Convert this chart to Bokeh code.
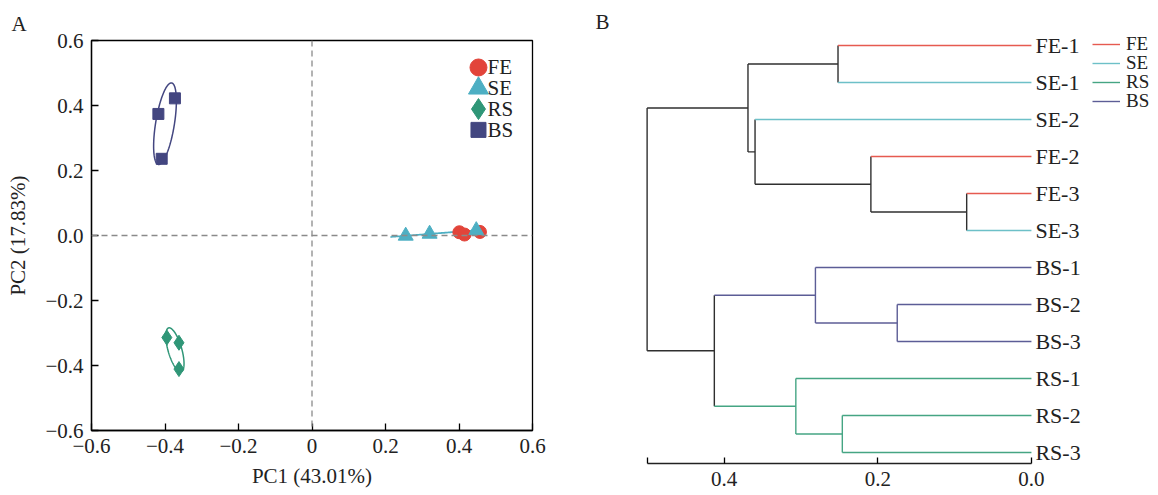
import numpy as np
from bokeh.plotting import figure
from bokeh.models import Range1d, Span, FixedTicker, Legend, LegendItem, Label
from bokeh.layouts import row, column
from bokeh.embed import file_html
from bokeh.resources import INLINE
from bokeh.core.properties import value

FONT = "Liberation Serif"

# ---------------- data ----------------
groups = ["FE", "SE", "RS", "BS"]
pc1_FE = [0.401, 0.415, 0.457]
pc2_FE = [0.010, 0.003, 0.011]
pc1_SE = [0.255, 0.320, 0.447]
pc2_SE = [-0.001, 0.005, 0.016]
pc1_RS = [-0.395, -0.362, -0.362]
pc2_RS = [-0.314, -0.330, -0.411]
pc1_BS = [-0.418, -0.373, -0.409]
pc2_BS = [0.374, 0.422, 0.236]

x_ticks = [-0.6, -0.4, -0.2, 0.0, 0.2, 0.4, 0.6]
x_tick_labels = ["\u22120.6", "\u22120.4", "\u22120.2", "0", "0.2", "0.4", "0.6"]
y_ticks = [-0.6, -0.4, -0.2, 0.0, 0.2, 0.4, 0.6]
y_tick_labels = ["\u22120.6", "\u22120.4", "\u22120.2", "0.0", "0.2", "0.4", "0.6"]

leaves = ["FE-1", "SE-1", "SE-2", "FE-2", "FE-3", "SE-3",
          "BS-1", "BS-2", "BS-3", "RS-1", "RS-2", "RS-3"]
# merges: (child a, child b, height); "mN" refers to the N-th merge
merges = [
    ("FE-3", "SE-3", 0.0843),
    ("BS-2", "BS-3", 0.1747),
    ("FE-2", "m0", 0.2090),
    ("RS-2", "RS-3", 0.2462),
    ("FE-1", "SE-1", 0.2518),
    ("BS-1", "m1", 0.2812),
    ("RS-1", "m3", 0.3067),
    ("SE-2", "m2", 0.3598),
    ("m4", "m7", 0.3690),
    ("m5", "m6", 0.4128),
    ("m8", "m9", 0.5003),
]
dendro_ticks = [0.0, 0.2, 0.4]
dendro_tick_labels = ["0.0", "0.2", "0.4"]

# ---------------- styles ----------------
pc_colors = {"FE": "#E2443A", "SE": "#4DAFC3", "RS": "#2F9677", "BS": "#434680"}
dn_colors = {"FE": "#E65A50", "SE": "#6DC0C8", "RS": "#45A583", "BS": "#5C5D96", "mix": "#2F2F2F"}
markers = {"FE": "circle", "SE": "triangle", "RS": "diamond", "BS": "square"}
sizes = {"FE": 13, "SE": 15, "RS": 15, "BS": 11}
leg_sizes = {"FE": 17, "SE": 20, "RS": 21, "BS": 15}
pcs = {"FE": (pc1_FE, pc2_FE), "SE": (pc1_SE, pc2_SE),
       "RS": (pc1_RS, pc2_RS), "BS": (pc1_BS, pc2_BS)}
TXT = "#222222"


def ellipse(xs, ys, k=1.3, n=240):
    x = np.asarray(xs, float)
    y = np.asarray(ys, float)
    cov = np.cov(x, y)
    vals, vecs = np.linalg.eigh(cov)
    vals = np.clip(vals, 1e-7, None)
    t = np.linspace(0, 2 * np.pi, n)
    circ = np.stack([np.cos(t), np.sin(t)])
    pts = vecs @ (np.sqrt(vals)[:, None] * k * circ)
    return x.mean() + pts[0], y.mean() + pts[1]


# ---------------- panel A ----------------
p1 = figure(width=583, height=495, output_backend="svg", toolbar_location=None,
            x_range=Range1d(-0.6, 0.6), y_range=Range1d(-0.6, 0.6),
            min_border_left=91, min_border_right=51, min_border_top=40, min_border_bottom=65)
p1.grid.visible = False
p1.outline_line_color = "black"
p1.outline_line_width = 1.3
p1.title.text = "A"
p1.title.align = "left"
p1.title.offset = -80
p1.title.text_font = FONT
p1.title.text_font_size = "21px"
p1.title.text_font_style = "normal"
p1.title.text_color = TXT
p1.title.standoff = 9

p1.add_layout(Span(location=0, dimension="height", line_color="#8A8A8A",
                   line_dash="6 4", line_width=1.3))
p1.add_layout(Span(location=0, dimension="width", line_color="#8A8A8A",
                   line_dash="6 4", line_width=1.3))

for g in groups:
    ex, ey = ellipse(*pcs[g])
    p1.line(ex, ey, line_color=pc_colors[g], line_width=1.5)
for g in groups:
    xs, ys = pcs[g]
    p1.scatter(xs, ys, marker=markers[g], size=sizes[g], fill_color=pc_colors[g],
               line_color=pc_colors[g])

# legend of panel A
leg_x = 0.453
leg_y0 = 0.517
leg_dy = 0.064
for i, g in enumerate(groups):
    yy = leg_y0 - i * leg_dy
    p1.scatter([leg_x], [yy], marker=markers[g], size=leg_sizes[g],
               fill_color=pc_colors[g], line_color=pc_colors[g])
    p1.text([leg_x], [yy], text=[g], x_offset=9, text_baseline="middle",
            text_align="left", text_font=value(FONT), text_font_size="21px",
            text_color=TXT)

for ax in (p1.xaxis[0], p1.yaxis[0]):
    ax.major_tick_in = 7
    ax.major_tick_out = 0
    ax.minor_tick_line_color = None
    ax.axis_line_color = "black"
    ax.axis_line_width = 1.3
    ax.major_tick_line_width = 1.3
    ax.major_label_text_font = FONT
    ax.major_label_text_font_size = "21px"
    ax.major_label_text_color = TXT
    ax.axis_label_text_font = FONT
    ax.axis_label_text_font_size = "21px"
    ax.axis_label_text_font_style = "normal"
    ax.axis_label_text_color = TXT

p1.xaxis.ticker = FixedTicker(ticks=x_ticks)
p1.xaxis.major_label_overrides = dict(zip(x_ticks, x_tick_labels))
p1.yaxis.ticker = FixedTicker(ticks=y_ticks)
p1.yaxis.major_label_overrides = dict(zip(y_ticks, y_tick_labels))
p1.xaxis.axis_label = "PC1 (43.01%)"
p1.yaxis.axis_label = "PC2 (17.83%)"
p1.xaxis.major_label_standoff = 8
p1.xaxis.axis_label_standoff = 8
p1.yaxis.major_label_standoff = 8
p1.yaxis.axis_label_standoff = 12

# ---------------- panel B (dendrogram) ----------------
pos = {name: float(i) for i, name in enumerate(leaves)}
hgt = {name: 0.0 for name in leaves}
grp = {name: name.split("-")[0] for name in leaves}
segs = {k: dict(x0=[], y0=[], x1=[], y1=[]) for k in groups + ["mix"]}


def add_seg(key, x0, y0, x1, y1):
    s = segs[key]
    s["x0"].append(x0); s["y0"].append(y0); s["x1"].append(x1); s["y1"].append(y1)


for i, (a, b, h) in enumerate(merges):
    node = "m%d" % i
    ya, yb = pos[a], pos[b]
    add_seg(grp[a], hgt[a], ya, h, ya)
    add_seg(grp[b], hgt[b], yb, h, yb)
    gnode = grp[a] if grp[a] == grp[b] else "mix"
    add_seg(gnode, h, ya, h, yb)
    pos[node] = (ya + yb) / 2
    hgt[node] = h
    grp[node] = gnode
root_h = merges[-1][2]

# frame: x 590..1158 (px), y 8..463 (px)
p2 = figure(width=575, height=495, output_backend="svg", toolbar_location=None,
            x_range=Range1d(0.574, -0.1654), y_range=Range1d(11.297, -1.0),
            min_border_left=7, min_border_right=0, min_border_top=8, min_border_bottom=32,
            y_axis_location=None)
p2.grid.visible = False
p2.outline_line_color = None

renderers = {}
for k in ["mix"] + groups:
    s = segs[k]
    renderers[k] = p2.segment(x0=s["x0"], y0=s["y0"], x1=s["x1"], y1=s["y1"],
                              line_color=dn_colors[k], line_width=1.4)

p2.text(x=[0.0] * len(leaves), y=list(range(len(leaves))), text=leaves,
        x_offset=4, text_baseline="middle", text_align="left",
        text_font=value(FONT), text_font_size="22px", text_color=TXT)

ax = p2.xaxis[0]
ax.ticker = FixedTicker(ticks=dendro_ticks + [root_h])
ov = dict(zip(dendro_ticks, dendro_tick_labels))
ov[root_h] = ""
ax.major_label_overrides = ov
ax.bounds = (0, root_h)
ax.major_tick_in = 6
ax.major_tick_out = 0
ax.minor_tick_line_color = None
ax.axis_line_color = TXT
ax.axis_line_width = 1.3
ax.major_tick_line_width = 1.3
ax.major_label_text_font = FONT
ax.major_label_text_font_size = "21px"
ax.major_label_text_color = TXT
ax.major_label_standoff = 8

# one small legend per group so the rows can sit as close as in the original
leg_bottoms = [408, 389, 370, 351]
for g, yb in zip(groups, leg_bottoms):
    lg = Legend(items=[LegendItem(label=g, renderers=[renderers[g]])],
                location=(502, yb), glyph_width=28, glyph_height=20, label_height=20,
                label_width=10, spacing=0, padding=0, margin=0, label_standoff=6,
                label_text_font=FONT, label_text_font_size="19px",
                label_text_color=TXT, border_line_color=None,
                background_fill_alpha=0)
    p2.add_layout(lg)

p2.add_layout(Label(x=0.574, y=-0.622, x_units="data", y_units="data", text="B",
                    x_offset=5, text_font=FONT, text_font_size="21px",
                    text_baseline="middle", text_align="left", text_color=TXT))

layout = row(column(p1), column(p2))
open("out.html", "w").write(file_html(layout, INLINE))
